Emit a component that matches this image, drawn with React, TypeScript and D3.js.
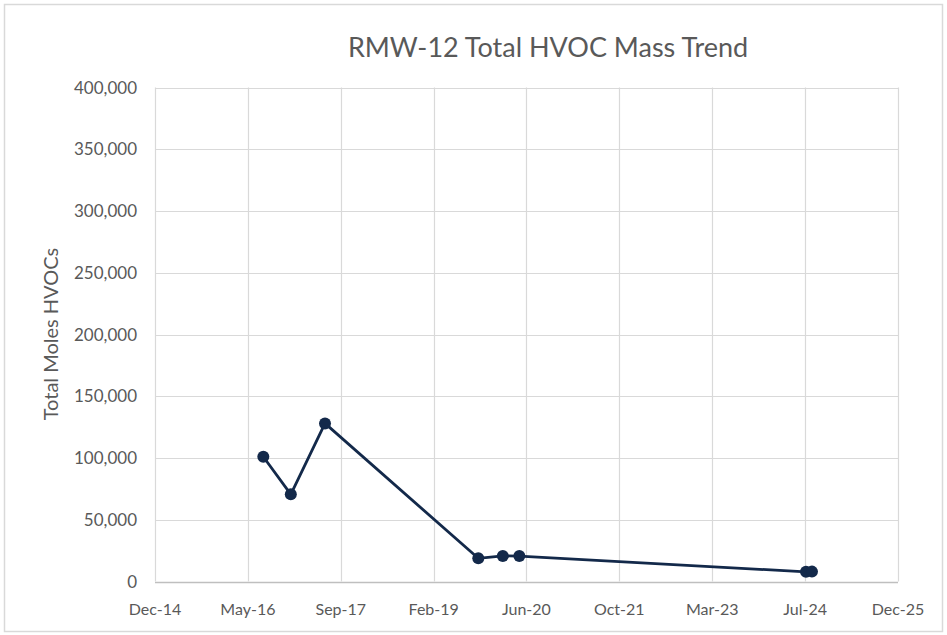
import React from "react";
import * as d3 from "d3";

const title = "RMW-12 Total HVOC Mass Trend";
const yAxisTitle = "Total Moles HVOCs";

const sampleDates = [
  "2016-08-01",
  "2016-12-27",
  "2017-06-29",
  "2019-10-02",
  "2020-02-11",
  "2020-05-10",
  "2024-07-31",
  "2024-09-01",
];
const sampleValues = [101000, 70600, 128000, 18800, 20700, 20600, 7800, 8000];

const xTickDates = [
  "2014-12-27",
  "2016-05-10",
  "2017-09-22",
  "2019-02-04",
  "2020-06-17",
  "2021-10-30",
  "2023-03-14",
  "2024-07-26",
  "2025-12-08",
];
const xTickLabels = ["Dec-14", "May-16", "Sep-17", "Feb-19", "Jun-20", "Oct-21", "Mar-23", "Jul-24", "Dec-25"];
const yTicks = [0, 50000, 100000, 150000, 200000, 250000, 300000, 350000, 400000];

const W = 947;
const H = 635;
const plot = { left: 155, right: 898, top: 87.5, bottom: 581.5 };
const FONT = "Lato, 'Open Sans', sans-serif";

export default function App() {
  const parse = (s: string) => new Date(s + "T00:00:00Z");
  const x = d3
    .scaleUtc()
    .domain([parse(xTickDates[0]), parse(xTickDates[xTickDates.length - 1])])
    .range([plot.left, plot.right]);
  const y = d3.scaleLinear().domain([0, 400000]).range([plot.bottom, plot.top]);
  const fmt = d3.format(",");

  const pts = sampleDates.map((d, i) => ({ d: parse(d), v: sampleValues[i] }));
  const line = d3
    .line<{ d: Date; v: number }>()
    .x((p) => x(p.d))
    .y((p) => y(p.v));

  return (
    <svg
      width={W}
      height={H}
      style={{ position: "absolute", left: 0, top: 0, background: "#fff" }}
      fontFamily={FONT}
    >
      <rect x={0} y={0} width={W} height={H} fill="#fff" />
      <rect x={4.5} y={4.5} width={938} height={627} fill="#fff" stroke="#d9d9d9" strokeWidth={1.5} />
      <text x={548} y={57} textAnchor="middle" fontSize={27} fill="#595959">
        {title}
      </text>
      {/* horizontal gridlines */}
      {yTicks.map((t) => (
        <line
          key={"h" + t}
          x1={plot.left}
          x2={plot.right}
          y1={Math.round(y(t)) + 0.5}
          y2={Math.round(y(t)) + 0.5}
          stroke={t === 0 ? "#bfbfbf" : "#d9d9d9"}
          strokeWidth={t === 0 ? 1.5 : 1.2}
        />
      ))}
      {/* vertical gridlines */}
      {xTickDates.map((t) => (
        <line
          key={"v" + t}
          x1={Math.round(x(parse(t))) + 0.5}
          x2={Math.round(x(parse(t))) + 0.5}
          y1={plot.top}
          y2={plot.bottom}
          stroke="#d9d9d9"
          strokeWidth={1.2}
        />
      ))}
      {/* y tick labels */}
      {yTicks.map((t) => (
        <text key={"yl" + t} x={137} y={y(t) + 6} textAnchor="end" fontSize={17} fill="#595959">
          {fmt(t)}
        </text>
      ))}
      {/* x tick labels */}
      {xTickDates.map((t, i) => (
        <text key={"xl" + t} x={x(parse(t))} y={615} textAnchor="middle" fontSize={16} fill="#595959">
          {xTickLabels[i]}
        </text>
      ))}
      <text
        transform={`translate(58,${334}) rotate(-90)`}
        textAnchor="middle"
        fontSize={20}
        fill="#595959"
      >
        {yAxisTitle}
      </text>
      <path d={line(pts) || ""} fill="none" stroke="#13294a" strokeWidth={2.8} strokeLinejoin="round" />
      {pts.map((p, i) => (
        <circle key={"c" + i} cx={x(p.d)} cy={y(p.v)} r={6} fill="#13294a" />
      ))}
    </svg>
  );
}
